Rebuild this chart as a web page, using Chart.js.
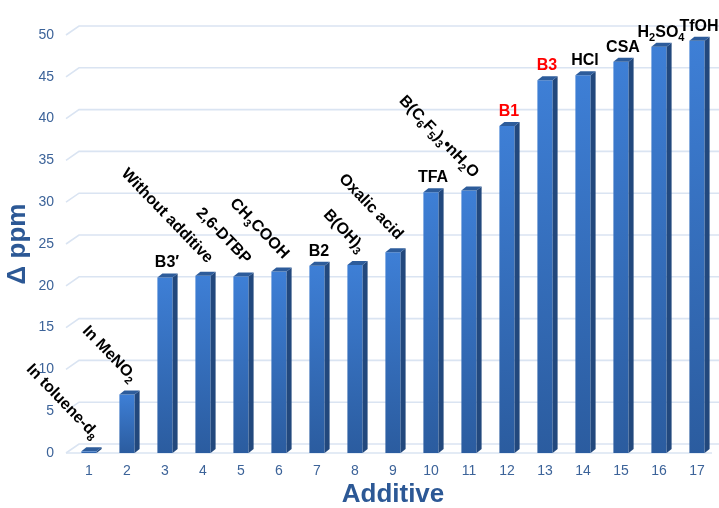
<!DOCTYPE html>
<html>
<head>
<meta charset="utf-8">
<script src="https://cdn.jsdelivr.net/npm/chart.js@4.4.1/dist/chart.umd.min.js"></script>
<style>
  html, body { margin: 0; padding: 0; background: #fff; }
</style>
</head>
<body>
<canvas id="chart" width="719" height="508"></canvas>
<script>
// === DATA ===
const additives = ['1', '2', '3', '4', '5', '6', '7', '8', '9', '10', '11', '12', '13', '14', '15', '16', '17'];
const deltaPpm = [0.2, 7.0, 21.0, 21.2, 21.1, 21.7, 22.4, 22.5, 24.0, 31.2, 31.4, 39.1, 44.6, 45.2, 46.8, 48.6, 49.3];
// '_' marks a subscript run of digits
const barNames = ['In toluene-d_8', 'In MeNO_2', 'B3\u2032', 'Without additive', '2,6-DTBP', 'CH_3COOH', 'B2',
  'B(OH)_3', 'Oxalic acid', 'TFA', 'B(C_6F_5)_3\u2022nH_2O', 'B1', 'B3', 'HCl', 'CSA', 'H_2SO_4', 'TfOH'];
const yTicks = [0, 5, 10, 15, 20, 25, 30, 35, 40, 45, 50];

// names drawn level (others slanted) and names drawn in red
const levelNames = ['B3\u2032', 'B2', 'TFA', 'B1', 'B3', 'HCl', 'CSA', 'H_2SO_4', 'TfOH'];
const redNames = ['B1', 'B3'];

const FONT = '"Liberation Sans", Arial, sans-serif';
const DEPTH = 5;

// === TEXT WITH SUBSCRIPTS ===
function splitRuns(text) {
  const runs = [];
  const re = /_(\d+)/g;
  let last = 0, m;
  while ((m = re.exec(text)) !== null) {
    if (m.index > last) runs.push({ t: text.slice(last, m.index), sub: false });
    runs.push({ t: m[1], sub: true });
    last = re.lastIndex;
  }
  if (last < text.length) runs.push({ t: text.slice(last), sub: false });
  return runs;
}

function drawRich(ctx, text, x, y, align) {
  const runs = splitRuns(text);
  const big = 'bold 16px ' + FONT, small = 'bold 11px ' + FONT;
  let w = 0;
  runs.forEach(r => { ctx.font = r.sub ? small : big; r.w = ctx.measureText(r.t).width; w += r.w; });
  let cx = align === 'right' ? x - w : align === 'center' ? x - w / 2 : x;
  ctx.textAlign = 'left';
  runs.forEach(r => {
    ctx.font = r.sub ? small : big;
    ctx.fillText(r.t, cx, r.sub ? y + 4 : y);
    cx += r.w;
  });
}

// === BACK WALL GRID ===
const wallGrid = {
  id: 'wallGrid',
  beforeDatasetsDraw(chart) {
    const { ctx, chartArea, scales: { y } } = chart;
    ctx.save();
    ctx.strokeStyle = '#dae4f2';
    ctx.lineWidth = 1.6;
    yTicks.forEach(v => {
      const py = y.getPixelForValue(v);
      ctx.beginPath();
      ctx.moveTo(chartArea.left - 4, py);
      ctx.lineTo(chartArea.left + 9, py - 9);
      ctx.lineTo(chart.width, py - 9);
      ctx.stroke();
    });
    const p0 = y.getPixelForValue(0);
    ctx.beginPath();
    ctx.moveTo(chartArea.left - 4, p0);
    ctx.lineTo(chartArea.right - 4, p0);
    ctx.stroke();
    ctx.restore();
  }
};

// === 3D FACES AND BAR NAMES ===
const barFaces = {
  id: 'barFaces',
  afterDatasetsDraw(chart) {
    const { ctx } = chart;
    const meta = chart.getDatasetMeta(0);
    ctx.save();
    meta.data.forEach((bar, i) => {
      const half = bar.width / 2;
      const r = bar.x + half, l = bar.x - half;
      // side face
      ctx.fillStyle = '#22487d';
      ctx.beginPath();
      ctx.moveTo(r, bar.y);
      ctx.lineTo(r + DEPTH, bar.y - DEPTH + 1);
      ctx.lineTo(r + DEPTH, bar.base - DEPTH + 1);
      ctx.lineTo(r, bar.base);
      ctx.closePath();
      ctx.fill();
      // top face
      ctx.fillStyle = '#2d5c9b';
      ctx.beginPath();
      ctx.moveTo(l, bar.y);
      ctx.lineTo(l + DEPTH, bar.y - DEPTH + 1);
      ctx.lineTo(r + DEPTH, bar.y - DEPTH + 1);
      ctx.lineTo(r, bar.y);
      ctx.closePath();
      ctx.fill();

      // name above the bar
      const name = barNames[i];
      ctx.fillStyle = redNames.includes(name) ? '#ff0000' : '#000000';
      ctx.textBaseline = 'alphabetic';
      if (levelNames.includes(name)) {
        drawRich(ctx, name, bar.x + 2, bar.y - 10, 'center');
      } else {
        ctx.save();
        ctx.translate(bar.x + 4, bar.y - 12);
        ctx.rotate(46 * Math.PI / 180);
        drawRich(ctx, name, 0, 0, 'right');
        ctx.restore();
      }
    });
    ctx.restore();
  }
};

// === CHART ===
const ctx = document.getElementById('chart').getContext('2d');
new Chart(ctx, {
  type: 'bar',
  data: {
    labels: additives,
    datasets: [{
      data: deltaPpm,
      backgroundColor: (c) => {
        const chart = c.chart;
        if (!chart.chartArea || c.raw === undefined) return '#3470c0';
        const ys = chart.scales.y;
        const top = ys.getPixelForValue(c.raw), base = ys.getPixelForValue(0);
        const g = chart.ctx.createLinearGradient(0, top, 0, base + 0.01);
        g.addColorStop(0, '#3e7fd6');
        g.addColorStop(1, '#2b5c9f');
        return g;
      },
      borderWidth: 0,
      barPercentage: 0.4,
      categoryPercentage: 1
    }]
  },
  options: {
    responsive: false,
    animation: false,
    layout: { padding: { top: 35, right: 3, left: 0, bottom: 0 } },
    plugins: { legend: { display: false }, tooltip: { enabled: false } },
    scales: {
      x: {
        afterFit: (s) => { s.height = 55; },
        grid: { display: false, drawTicks: false, tickLength: 0 },
        border: { display: false },
        ticks: { color: '#3c6399', font: { size: 14, family: FONT }, padding: 10 },
        title: {
          display: true, text: 'Additive', color: '#2c5895',
          font: { size: 26, weight: 'bold', family: FONT, lineHeight: 1 }, padding: { top: 0, bottom: 0 }
        }
      },
      y: {
        min: 0, max: 50,
        afterBuildTicks: (s) => { s.ticks = yTicks.map(v => ({ value: v })); },
        afterFit: (s) => { s.width = 70; },
        grid: { display: false, drawTicks: false, tickLength: 0 },
        border: { display: false },
        ticks: { color: '#3c6399', font: { size: 14, family: FONT }, padding: 16 },
        title: {
          display: true, text: '\u0394 ppm', color: '#2c5895',
          font: { size: 26, weight: 'bold', family: FONT, lineHeight: 1 }, padding: { top: 5, bottom: 5 }
        }
      }
    }
  },
  plugins: [wallGrid, barFaces]
});
</script>
</body>
</html>
